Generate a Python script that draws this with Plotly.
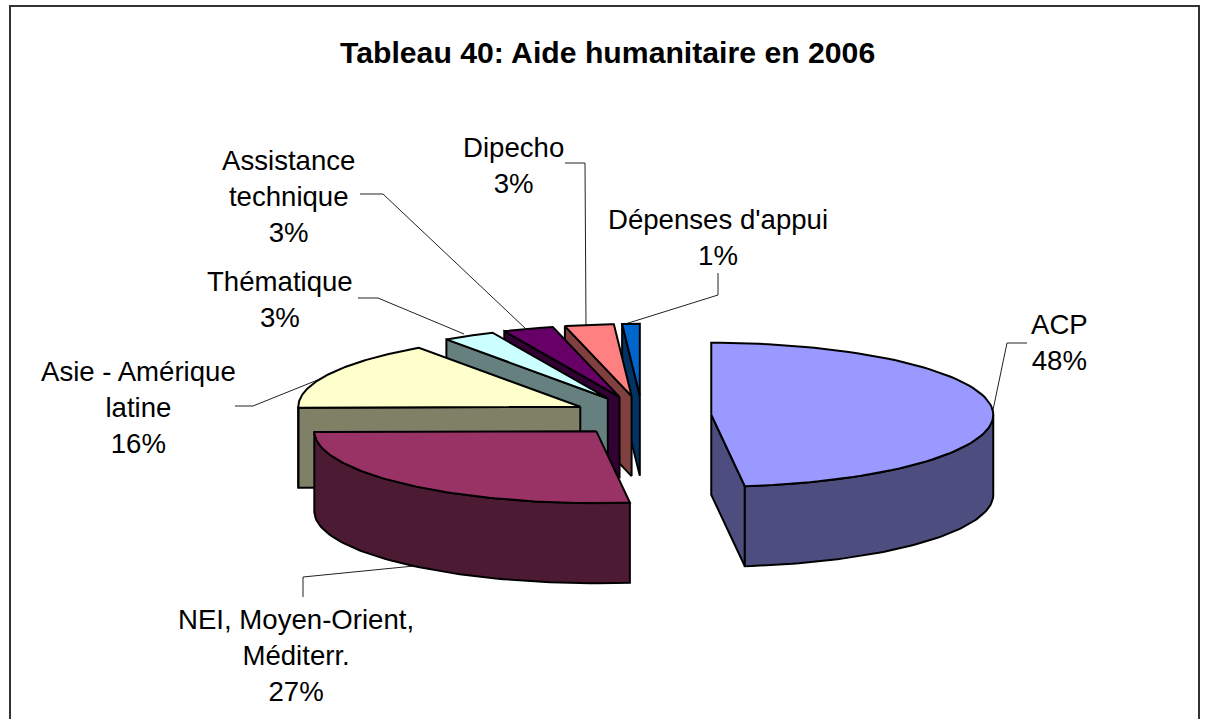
import numpy as np
import plotly.graph_objects as go

# ---- data ----
categories = ["ACP", "NEI, Moyen-Orient,<br>Méditerr.", "Asie - Amérique<br>latine", "Thématique",
              "Assistance<br>technique", "Dipecho", "Dépenses d'appui"]
values = [48.1, 26.7, 15.5, 3.0, 2.9, 2.8, 1.0]
percent_labels = ["48%", "27%", "16%", "3%", "3%", "3%", "1%"]
title_text = "Tableau 40: Aide humanitaire en 2006"

# ---- style / layout ----
top_colors = ["#9999FF", "#993366", "#FFFFCC", "#CCFFFF", "#660066", "#FF8080", "#0066CC"]
side_colors = ["#4D4D80", "#4D1A33", "#808066", "#668080", "#330033", "#804040", "#003366"]
CX, CY, RX, RY, DEPTH, EXPLODE_X, EXPLODE_Y = 642, 416, 282, 72, 80, 0.246, 0.28
label_xy = [(1059, 342), (296, 655), (138, 407), (280, 299), (288, 196), (513, 165), (718, 237)]
leaders = [
    [(1027, 343), (1007, 343), (993, 410)],
    [(303, 597), (303, 577), (414, 566)],
    [(235, 406), (253, 406), (325, 377)],
    [(358, 298), (378, 298), (464, 334)],
    [(360, 194), (383, 194), (526, 329)],
    [(565, 163), (585, 163), (586, 325)],
    [(718, 273), (718, 295), (622, 325)],
]
LINE = dict(color="#000000", width=2)

fig = go.Figure()


def poly(xs, ys, fill):
    fig.add_trace(go.Scatter(x=list(xs), y=list(ys), mode="lines", fill="toself", fillcolor=fill,
                             line=LINE, hoverinfo="skip", showlegend=False))


# frame (open at the bottom, cropped by the window)
fig.add_trace(go.Scatter(x=[10, 10, 1199, 1199], y=[719, 6, 6, 719], mode="lines",
                         line=dict(color="#333333", width=2), hoverinfo="skip", showlegend=False))
for path in leaders:
    fig.add_trace(go.Scatter(x=[p[0] for p in path], y=[p[1] for p in path], mode="lines",
                             line=dict(color="#222222", width=1), hoverinfo="skip", showlegend=False))

total = sum(values)
edges = np.concatenate([[0], np.cumsum(values)]) / total * 360.0


def rim(ax, ay, deg):
    t = np.radians(deg)
    return ax + RX * np.sin(t), ay - RY * np.cos(t)


for i in reversed(range(len(values))):
    a0, a1 = edges[i], edges[i + 1]
    mid = np.radians((a0 + a1) / 2)
    ax = CX + EXPLODE_X * RX * np.sin(mid)
    ay = CY - EXPLODE_Y * RY * np.cos(mid)
    side, top = side_colors[i], top_colors[i]
    # radial walls facing the viewer
    t0, t1 = np.radians(a0), np.radians(a1)
    if np.sin(t0) < -1e-6:
        x, y = rim(ax, ay, a0)
        poly([ax, x, x, ax, ax], [ay, y, y + DEPTH, ay + DEPTH, ay], side)
    if np.sin(t1) > 1e-6:
        x, y = rim(ax, ay, a1)
        poly([ax, x, x, ax, ax], [ay, y, y + DEPTH, ay + DEPTH, ay], side)
    # curved outer wall
    lo, hi = max(a0, 90), min(a1, 270)
    if hi > lo:
        x, y = rim(ax, ay, np.linspace(lo, hi, 60))
        poly(np.r_[x, x[::-1], x[0]], np.r_[y, y[::-1] + DEPTH, y[0]], side)
    # top face
    x, y = rim(ax, ay, np.linspace(a0, a1, 90))
    poly(np.r_[ax, x, ax], np.r_[ay, y, ay], top)

for cat, pct, (lx, ly) in zip(categories, percent_labels, label_xy):
    fig.add_annotation(x=lx, y=ly, text=f"{cat}<br>{pct}", showarrow=False, align="center",
                       xanchor="center", yanchor="middle",
                       font=dict(family="Liberation Sans", size=27.6, color="#000000"))
fig.add_annotation(x=607, y=52, text=f"<b>{title_text}</b>", showarrow=False, xanchor="center",
                   yanchor="middle", font=dict(family="Liberation Sans", size=30.2, color="#000000"))

fig.update_layout(width=1205, height=719, margin=dict(l=0, r=0, t=0, b=0),
                  paper_bgcolor="#FFFFFF", plot_bgcolor="#FFFFFF",
                  xaxis=dict(range=[0, 1205], visible=False, fixedrange=True),
                  yaxis=dict(range=[719, 0], visible=False, fixedrange=True))
fig.write_html("out.html", config={"displayModeBar": False},
               post_script="document.body.style.margin='0';document.documentElement.style.overflow='hidden';")
